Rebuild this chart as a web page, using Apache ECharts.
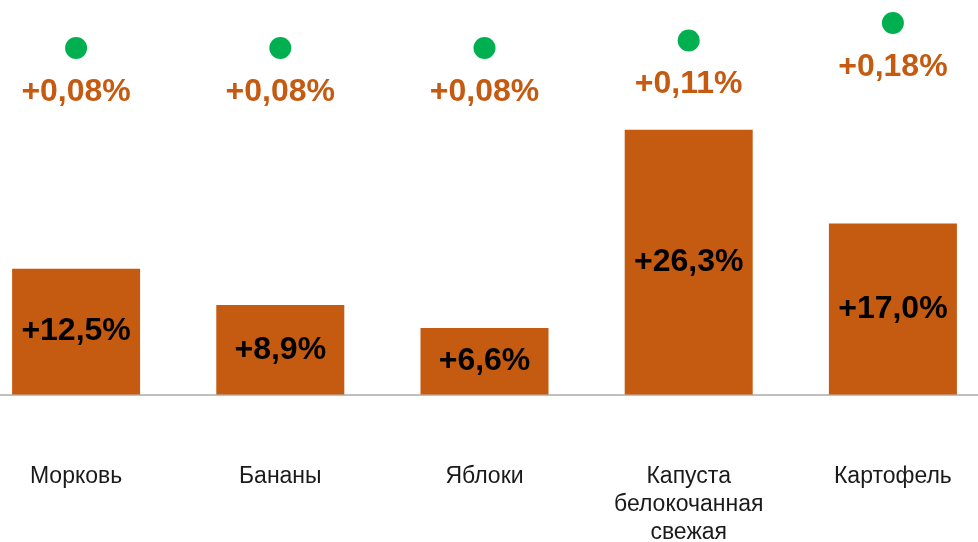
<!DOCTYPE html>
<html>
<head>
<meta charset="utf-8">
<script src="https://cdn.jsdelivr.net/npm/echarts@6/dist/echarts.min.js"></script>
<style>
  html, body { margin: 0; padding: 0; background: #fff; }
  .wrap { position: relative; width: 978px; height: 542px; overflow: hidden; }
  /* область графика шире окна: крайние столбцы прижаты к краям */
  #chart { position: absolute; top: 0; left: -26px; width: 1021px; height: 542px; }
</style>
</head>
<body>
<div class="wrap"><div id="chart"></div></div>
<script>
// категории
var categories = ['Морковь', 'Бананы', 'Яблоки', 'Капуста\nбелокочанная\nсвежая', 'Картофель']
// рост цен, %
var growth = [12.5, 8.9, 6.6, 26.3, 17.0]
// вклад в инфляцию, п.п.
var contribution = [0.08, 0.08, 0.08, 0.11, 0.18]

var fmt = function (v, d) {
  return '+' + v.toFixed(d).replace('.', ',') + '%'
}

var chart = echarts.init(document.getElementById('chart'))
chart.setOption({
  animation: false,
  grid: { left: 0, right: 0, top: 2, bottom: 147.5, outerBoundsMode: 'none' },
  xAxis: {
    type: 'category',
    data: categories,
    axisLine: { lineStyle: { color: '#BFBFBF', width: 2 } },
    axisTick: { show: false },
    axisLabel: {
      interval: 0,
      margin: 68,
      color: '#1a1a1a',
      fontSize: 23,
      lineHeight: 28,
      fontFamily: 'Liberation Sans, Arial, sans-serif'
    }
  },
  yAxis: [{
    type: 'value',
    min: 0,
    max: 39,
    show: false,
    splitLine: { show: false }
  }, {
    type: 'value',
    min: -1.306,
    max: 0.264,
    show: false,
    splitLine: { show: false }
  }],
  series: [{
    type: 'bar',
    data: growth,
    barWidth: 128,
    itemStyle: { color: '#C55A11' },
    label: {
      show: true,
      position: 'inside',
      color: '#000',
      fontSize: 32,
      fontWeight: 'bold',
      fontFamily: 'Liberation Sans, Arial, sans-serif',
      formatter: function (p) { return fmt(p.value, 1) }
    }
  }, {
    type: 'scatter',
    yAxisIndex: 1,
    data: contribution,
    symbol: 'circle',
    symbolSize: 22,
    itemStyle: { color: '#00B050', opacity: 1 },
    label: {
      show: true,
      position: 'bottom',
      distance: 17,
      color: '#C55A11',
      fontSize: 32,
      lineHeight: 32,
      fontWeight: 'bold',
      fontFamily: 'Liberation Sans, Arial, sans-serif',
      formatter: function (p) { return fmt(p.value, 2) }
    }
  }]
})
</script>
</body>
</html>
